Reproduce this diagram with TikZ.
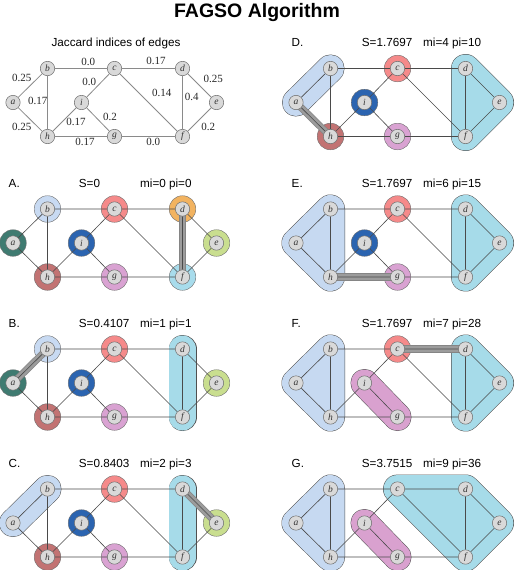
\documentclass[tikz,border=0pt]{standalone}
\usepackage{fontspec}
\setmainfont{Liberation Serif}
\setsansfont{Liberation Sans}
\definecolor{cA}{HTML}{3F7B71}
\definecolor{cB}{HTML}{C8DAF2}
\definecolor{cC}{HTML}{F58A8A}
\definecolor{cD}{HTML}{F2B360}
\definecolor{cE}{HTML}{C9DE8F}
\definecolor{cF}{HTML}{A8DCEC}
\definecolor{cG}{HTML}{D9A2D2}
\definecolor{cH}{HTML}{C27373}
\definecolor{cI}{HTML}{2B64B0}
\definecolor{HB}{HTML}{C6D9F1}
\definecolor{HC}{HTML}{A6DBE9}
\definecolor{HP}{HTML}{D9A1CF}
\definecolor{hullline}{HTML}{505050}
\definecolor{vfill}{HTML}{D9D9D9}
\definecolor{vline}{HTML}{6E6E6E}
\definecolor{eline}{HTML}{4A4A4A}
\definecolor{jline}{HTML}{8A8A8A}
\definecolor{bandout}{HTML}{858585}
\definecolor{bandin}{HTML}{9C9C9C}
\pgfdeclarelayer{hull}
\pgfdeclarelayer{ring}
\pgfsetlayers{hull,ring,main}
\tikzset{
  vtx/.style={circle, draw=vline, line width=0.5pt, fill=vfill, minimum size=14.4pt, inner sep=0pt,
    font=\fontsize{9.5}{9.5}\selectfont\itshape, text=black!80},
  ringst/.style={circle, draw=vline, line width=0.4pt, minimum size=26.6pt, inner sep=0pt},
  pedge/.style={draw=eline, line width=0.6pt},
  jedge/.style={draw=jline, line width=0.8pt},
  ttl/.style={font=\sffamily\fontsize{11.7}{13}\selectfont, inner sep=0pt, anchor=base west},
  jlab/.style={font=\fontsize{11}{11}\selectfont, inner sep=0pt, text=black!85},
}
% place the nine vertices of one panel
\newcommand\mkpanel[3]{%
  \node[vtx] (#1a) at ({#2},{#3+34}) {a};
  \node[vtx] (#1b) at ({#2+34.5},{#3}) {b};
  \node[vtx] (#1h) at ({#2+34.5},{#3+68}) {h};
  \node[vtx] (#1i) at ({#2+68.5},{#3+34}) {i};
  \node[vtx] (#1c) at ({#2+101.5},{#3}) {c};
  \node[vtx] (#1g) at ({#2+101.5},{#3+68}) {g};
  \node[vtx] (#1d) at ({#2+169.5},{#3}) {d};
  \node[vtx] (#1f) at ({#2+169.5},{#3+68}) {f};
  \node[vtx] (#1e) at ({#2+203.5},{#3+34}) {e};
}
\newcommand\mkedges[2]{%
  \begin{pgfonlayer}{ring}
  \draw[#2] (#1a) -- (#1b) (#1a) -- (#1h) (#1b) -- (#1h) (#1b) -- (#1c)
    (#1c) -- (#1i) (#1c) -- (#1d) (#1c) -- (#1f) (#1d) -- (#1f) (#1d) -- (#1e)
    (#1e) -- (#1f) (#1h) -- (#1i) (#1i) -- (#1g) (#1h) -- (#1g) (#1g) -- (#1f);
  \end{pgfonlayer}
}
\newcommand\ringat[3]{%
  \begin{pgfonlayer}{ring}
  \node[ringst, fill=#3] (#1#2r) at (#1#2.center) {};
  \end{pgfonlayer}
}
\newcommand\bandat[3]{%
  \begin{pgfonlayer}{ring}
  \draw[line width=7.2pt, draw=bandout] (#1#2.center) -- (#1#3.center);
  \draw[line width=5.8pt, draw=bandin] (#1#2.center) -- (#1#3.center);
  \end{pgfonlayer}
}
\newcommand\hullpair[3]{%
  \begin{pgfonlayer}{hull}
  \draw[line width=28pt, line cap=round, draw=hullline] (#2.center) -- (#3.center);
  \draw[line width=27pt, line cap=round, draw=#1] (#2.center) -- (#3.center);
  \end{pgfonlayer}
}
\newcommand\hullpoly[2]{%
  \begin{pgfonlayer}{hull}
  \filldraw[line width=29pt, line join=round, draw=hullline, fill=hullline] #2 -- cycle;
  \filldraw[line width=28pt, line join=round, draw=#1, fill=#1] #2 -- cycle;
  \end{pgfonlayer}
}
\newcommand\paneltitle[6]{%
  \node[ttl] (#1t) at ({#2-4.5},{#3-22}) {#4};
  \node[ttl] (#1s) at ({#2+65.7},{#3-22}) {#5};
  \node[ttl] (#1m) at ({#2+127},{#3-22}) {#6};
}
\begin{document}
\begin{tikzpicture}[x=1pt,y=-1pt]
\useasboundingbox (0,0) rectangle (515,570);
\begin{pgfonlayer}{hull}
\fill[white] (0,0) rectangle (515,570);
\end{pgfonlayer}

\node[font=\sffamily\bfseries\fontsize{19.5}{20}\selectfont, inner sep=0pt, anchor=base] (title) at (257,17) {FAGSO Algorithm};

% ---------- Jaccard panel ----------
\node[font=\sffamily\fontsize{11.7}{13}\selectfont, inner sep=0pt, anchor=base] (jt) at (116,46.5) {Jaccard indices of edges};
\mkpanel{J}{13}{68.5}
\mkedges{J}{jedge}
\node[jlab] (l1) at (21.7,77.7) {0.25};
\node[jlab] (l2) at (37.7,101) {0.17};
\node[jlab] (l3) at (21.7,127.3) {0.25};
\node[jlab] (l4) at (88.3,61.7) {0.0};
\node[jlab] (l5) at (89.3,81.7) {0.0};
\node[jlab] (l6) at (156,61) {0.17};
\node[jlab] (l7) at (161.7,92.7) {0.14};
\node[jlab] (l8) at (191.7,96.7) {0.4};
\node[jlab] (l9) at (213.3,79.3) {0.25};
\node[jlab] (l10) at (208.3,127.3) {0.2};
\node[jlab] (l11) at (76,121.7) {0.17};
\node[jlab] (l12) at (110,117.3) {0.2};
\node[jlab] (l13) at (85,141.7) {0.17};
\node[jlab] (l14) at (153.3,141.7) {0.0};

% ---------- A ----------
\paneltitle{A}{13}{209}{A.}{S=0}{mi=0 pi=0}
\mkpanel{A}{13}{209}
\ringat{A}{a}{cA}\ringat{A}{b}{cB}\ringat{A}{c}{cC}\ringat{A}{d}{cD}\ringat{A}{e}{cE}
\ringat{A}{f}{cF}\ringat{A}{g}{cG}\ringat{A}{h}{cH}\ringat{A}{i}{cI}
\bandat{A}{d}{f}
\mkedges{A}{pedge}

% ---------- B ----------
\paneltitle{B}{13}{349}{B.}{S=0.4107}{mi=1 pi=1}
\mkpanel{B}{13}{349}
\hullpair{HC}{Bd}{Bf}
\ringat{B}{a}{cA}\ringat{B}{b}{cB}\ringat{B}{c}{cC}\ringat{B}{e}{cE}
\ringat{B}{g}{cG}\ringat{B}{h}{cH}\ringat{B}{i}{cI}
\bandat{B}{a}{b}
\mkedges{B}{pedge}

% ---------- C ----------
\paneltitle{C}{13}{489}{C.}{S=0.8403}{mi=2 pi=3}
\mkpanel{C}{13}{489}
\hullpair{HB}{Ca}{Cb}
\hullpair{HC}{Cd}{Cf}
\ringat{C}{c}{cC}\ringat{C}{e}{cE}\ringat{C}{g}{cG}\ringat{C}{h}{cH}\ringat{C}{i}{cI}
\bandat{C}{d}{e}
\mkedges{C}{pedge}

% ---------- D ----------
\paneltitle{D}{296}{68.5}{D.}{S=1.7697}{mi=4 pi=10}
\mkpanel{D}{296}{68.5}
\hullpair{HB}{Da}{Db}
\hullpoly{HC}{(Dd.center) -- (De.center) -- (Df.center)}
\ringat{D}{c}{cC}\ringat{D}{g}{cG}\ringat{D}{h}{cH}\ringat{D}{i}{cI}
\bandat{D}{a}{h}
\mkedges{D}{pedge}

% ---------- E ----------
\paneltitle{E}{296}{209}{E.}{S=1.7697}{mi=6 pi=15}
\mkpanel{E}{296}{209}
\hullpoly{HB}{(Ea.center) -- (Eb.center) -- (Eh.center)}
\hullpoly{HC}{(Ed.center) -- (Ee.center) -- (Ef.center)}
\ringat{E}{c}{cC}\ringat{E}{g}{cG}\ringat{E}{i}{cI}
\bandat{E}{h}{g}
\mkedges{E}{pedge}

% ---------- F ----------
\paneltitle{F}{296}{349}{F.}{S=1.7697}{mi=7 pi=28}
\mkpanel{F}{296}{349}
\hullpoly{HB}{(Fa.center) -- (Fb.center) -- (Fh.center)}
\hullpoly{HC}{(Fd.center) -- (Fe.center) -- (Ff.center)}
\hullpair{HP}{Fi}{Fg}
\ringat{F}{c}{cC}
\bandat{F}{c}{d}
\mkedges{F}{pedge}

% ---------- G ----------
\paneltitle{G}{296}{489}{G.}{S=3.7515}{mi=9 pi=36}
\mkpanel{G}{296}{489}
\hullpoly{HB}{(Ga.center) -- (Gb.center) -- (Gh.center)}
\hullpoly{HC}{(Gc.center) -- (Gd.center) -- (Ge.center) -- (Gf.center)}
\hullpair{HP}{Gi}{Gg}
\mkedges{G}{pedge}
\end{tikzpicture}
\end{document}
